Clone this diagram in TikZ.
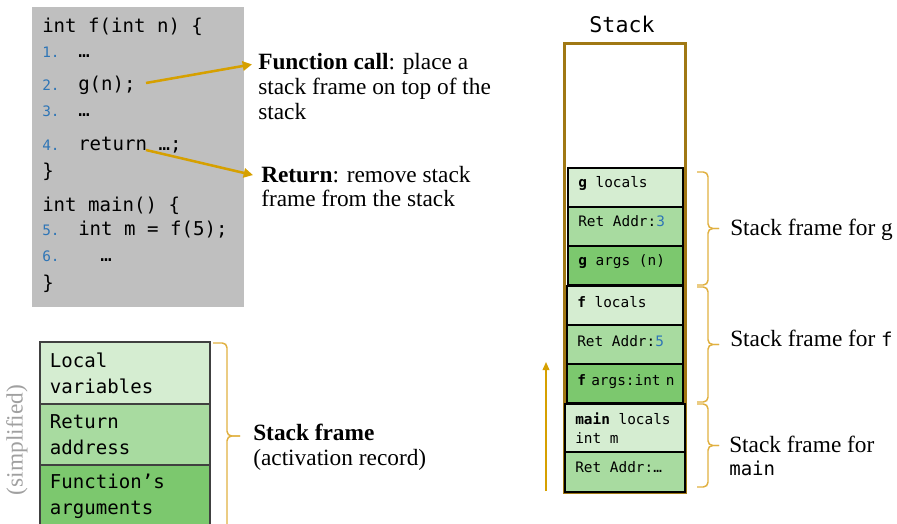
\documentclass[tikz,border=0pt]{standalone}
\usepackage{fontspec}
\setmainfont{Liberation Serif}
\newfontfamily\codefont{DejaVu Sans Mono}
\usetikzlibrary{arrows.meta}

\definecolor{codebg}{HTML}{BFBFBF}
\definecolor{lnblue}{HTML}{2E75B6}
\definecolor{stackgold}{HTML}{A07814}
\definecolor{arrowgold}{HTML}{D6A000}
\definecolor{bracegold}{HTML}{E0B040}
\definecolor{gLight}{HTML}{D5EDD1}
\definecolor{gMid}{HTML}{A8DBA0}
\definecolor{gDark}{HTML}{7CC86E}
\definecolor{boxgray}{HTML}{404040}
\definecolor{notegray}{HTML}{A0A0A0}

\tikzset{
  codetxt/.style={font=\codefont\fontsize{14.3pt}{17pt}\selectfont, anchor=base west, inner sep=0pt},
  lnum/.style={font=\codefont\fontsize{10.8pt}{13pt}\selectfont, text=lnblue, anchor=base west, inner sep=0pt},
  serif/.style={font=\fontsize{17.5pt}{21pt}\selectfont, anchor=base west, inner sep=0pt},
  celltxt/.style={font=\codefont\fontsize{10.8pt}{13pt}\selectfont, anchor=base west, inner sep=0pt},
  cell/.style={draw=black, line width=1.1pt, inner sep=0pt, minimum width=86.25pt, minimum height=29.25pt},
  srbox/.style={draw=boxgray, line width=1.1pt, minimum width=127.5pt, inner xsep=7.5pt, inner ysep=0pt,
    text width=112.5pt, align=left, font=\codefont\fontsize{14.3pt}{19.5pt}\selectfont},
  callarrow/.style={draw=arrowgold, line width=1.9pt, -{Triangle[length=7pt,width=7pt]}},
  uparrow/.style={draw=arrowgold, line width=1.1pt, -{Triangle[length=6pt,width=5pt]}},
  bracket/.style={draw=bracegold, line width=1.1pt, rounded corners=3.5pt},
}

% right-facing curly bracket: top, bottom (y in px), left x, arm x, tip x
\newcommand{\rbracket}[5]{%
  \draw[bracket] (#3,#1) -- (#4,#1) -- (#4,{(#1+#2)/2}) -- (#5,{(#1+#2)/2});
  \draw[bracket] (#3,#2) -- (#4,#2) -- (#4,{(#1+#2)/2}) -- (#5,{(#1+#2)/2});
}

\begin{document}
\begin{tikzpicture}[x=0.75pt, y=-0.75pt]
\useasboundingbox (0,0) rectangle (897,524);
\clip (0,0) rectangle (897,524);

% ---- source code panel ----
\node[fill=codebg, inner sep=0pt, minimum width=159pt, minimum height=225pt] (code) at (138,157) {};
\node[codetxt] (l0) at (42,33) {int f(int n) \{};
\node[lnum] (n1) at (42,58) {1.};
\node[codetxt] (c1) at (78,58) {…};
\node[lnum] (n2) at (42,91) {2.};
\node[codetxt] (c2) at (78,91) {g(n);};
\node[lnum] (n3) at (42,117) {3.};
\node[codetxt] (c3) at (78,117) {…};
\node[lnum] (n4) at (42,151) {4.};
\node[codetxt] (c4) at (78,151) {return …;};
\node[codetxt] (l5) at (42,178) {\}};
\node[codetxt] (l6) at (42,212) {int main() \{};
\node[lnum] (n5) at (42,236) {5.};
\node[codetxt] (c5) at (78,236) {int m = f(5);};
\node[lnum] (n6) at (42,262) {6.};
\node[codetxt] (c6) at (100,262) {…};
\node[codetxt] (l7) at (42,290) {\}};

% ---- explanations ----
\node[serif] (fc1) at (258,70) {\textbf{Function call}: place a};
\node[serif] (fc2) at (258,95) {stack frame on top of the};
\node[serif] (fc3) at (258,120) {stack};
\node[serif] (rt1) at (261,183) {\textbf{Return}: remove stack};
\node[serif] (rt2) at (261,207) {frame from the stack};

\coordinate (callpt) at (146,83);
\coordinate (retpt) at (146,150);
\draw[callarrow] (callpt) -- ([xshift=-4.5pt]fc1.west);
\draw[callarrow] (retpt) -- ([xshift=-6pt]rt1.west);

% ---- the stack ----
\node[font=\codefont\fontsize{16.2pt}{19pt}\selectfont, anchor=base, inner sep=0pt] (stk) at (622,33) {Stack};
\node[draw=stackgold, line width=2.25pt, inner sep=0pt, minimum width=90.75pt, minimum height=336pt] (stack) at (624.5,268) {};

\node[cell, fill=gLight] (gloc) at (625.5,187.5) {};
\node[cell, fill=gMid] (gret) at (625.5,226.5) {};
\node[cell, fill=gDark] (garg) at (625.5,265.5) {};
\node[cell, fill=gLight, minimum width=87pt] (floc) at (625,305.5) {};
\node[cell, fill=gMid, minimum width=87pt] (fret) at (625,344.5) {};
\node[cell, fill=gDark, minimum width=87pt] (farg) at (625,383.5) {};
\node[cell, fill=gLight, minimum width=90pt, minimum height=36pt] (mloc) at (625,428) {};
\node[cell, fill=gMid, minimum width=90pt, minimum height=30pt] (mret) at (625,472) {};

\node[celltxt] (tgloc) at (578,188) {\textbf{g} locals};
\node[celltxt] (tgret) at (578,227) {Ret Addr:\textcolor{lnblue}{3}};
\node[celltxt] (tgarg) at (578,266) {\textbf{g} args (n)};
\node[celltxt] (tfloc) at (577,307) {\textbf{f} locals};
\node[celltxt] (tfret) at (577,346) {Ret Addr:\textcolor{lnblue}{5}};
\node[celltxt] (tfarg) at (577,385) {\textbf{f}\hspace{-2.5pt} args:int\hspace{-2.5pt} n};
\node[celltxt] (tmloc) at (575,424) {\textbf{main} locals};
\node[celltxt] (tmint) at (575,443) {int m};
\node[celltxt] (tmret) at (575,472) {Ret Addr:…};

\coordinate (ub) at (546,491);
\coordinate (ut) at (546,362);
\draw[uparrow] (ub) -- (ut);

% brackets grouping the frames
\rbracket{172}{285}{697}{708}{719}
\rbracket{287}{402}{697}{708}{719}
\rbracket{404}{487}{697}{708}{719}

\node[serif] (sfg) at (730,236) {Stack frame for g};
\node[serif] (sff) at (730,347) {Stack frame for {\codefont\fontsize{14.3pt}{17pt}\selectfont f}};
\node[serif] (sfm1) at (729,452) {Stack frame for};
\node[codetxt] (sfm2) at (729,475) {main};

% ---- generic frame layout ----
\node[srbox, fill=gLight, minimum height=46.5pt] (lv) at (125,373) {Local\\variables};
\node[srbox, fill=gMid, minimum height=45.75pt] (ra) at (125,434.5) {Return\\address};
\node[srbox, fill=gDark, minimum height=46.5pt] (fa) at (125,496) {Function’s\\arguments};

\rbracket{343}{529}{213}{227}{240}

\node[serif] (sf1) at (253,440) {\textbf{Stack frame}};
\node[serif] (sf2) at (253,465) {(activation record)};
\node[font=\fontsize{17.5pt}{21pt}\selectfont, text=notegray, rotate=90, inner sep=0pt] (simp) at (17,440) {(simplified)};
\end{tikzpicture}
\end{document}
